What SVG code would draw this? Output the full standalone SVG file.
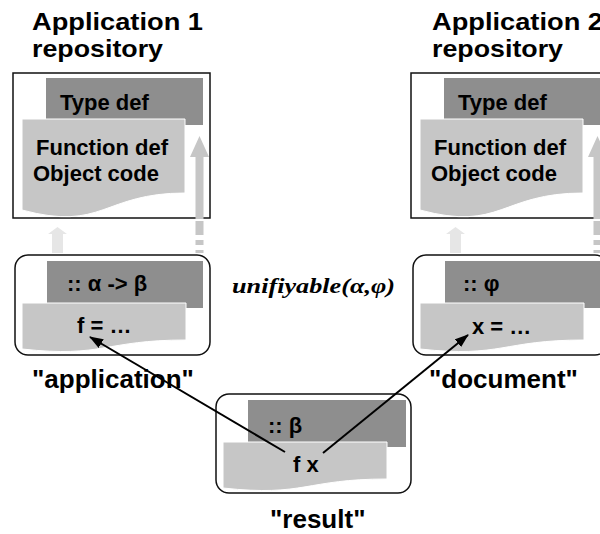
<svg xmlns="http://www.w3.org/2000/svg" width="600" height="534" viewBox="0 0 600 534">
  <style>
    .title { font-family: "Liberation Sans", Arial, sans-serif; font-weight: bold; font-size: 24px; fill: #000; }
    .label { font-family: "Liberation Sans", Arial, sans-serif; font-weight: bold; font-size: 26px; fill: #000; }
    .code  { font-family: "Liberation Sans", Arial, sans-serif; font-weight: bold; font-size: 22px; fill: #000; }
    .rule  { font-family: "Liberation Serif", "Times New Roman", serif; font-weight: bold; font-style: italic; font-size: 21px; fill: #000; }
    .frame { fill: #fff; stroke: #111; stroke-width: 1.5; }
    .dark  { fill: #8e8e8e; }
    .light { fill: #c6c6c6; stroke: #fff; stroke-width: 1; }
    .link  { stroke: #000; stroke-width: 2; fill: none; marker-end: url(#head); }
  </style>
  <defs>
    <marker id="head" viewBox="0 0 14 10" refX="13" refY="5" markerWidth="14" markerHeight="10" markerUnits="userSpaceOnUse" orient="auto">
      <path d="M0,0 L14,5 L0,10 Z" fill="#000"/>
    </marker>
    <!-- repository contents: type layer behind a document-shaped code layer -->
    <g id="repoContent">
      <rect class="dark" x="46" y="78" width="157" height="47"/>
      <path class="light" d="M22,119 H185 V193 C103,193 103,232 22,210 Z"/>
      <text class="code" x="60" y="110">Type def</text>
      <text class="code" x="36" y="155">Function def</text>
      <text class="code" x="33" y="181">Object code</text>
    </g>
    <!-- pale upward arrow under the repository -->
    <path id="paleArrow" d="M52,253 V234 H48 L57.5,227 L67,234 H63 V253 Z" fill="#e6e6e6"/>
    <!-- grey upward arrow with broken tail -->
    <g id="greyArrow" fill="#c6c6c6">
      <path d="M195.5,219 V157 H190 L199.5,136 L209,157 H203.5 V219 Z"/>
      <rect x="195.5" y="221" width="8" height="14"/>
      <rect x="195.5" y="240" width="8" height="5"/>
      <rect x="195.5" y="250" width="8" height="3"/>
    </g>
  </defs>

  <!-- repository links -->
  <g id="repoLinks">
    <use href="#paleArrow"/>
    <use href="#paleArrow" x="398"/>
  </g>

  <g id="app1Repo">
    <text class="title" x="32" y="30" textLength="171" lengthAdjust="spacingAndGlyphs">Application 1</text>
    <text class="title" x="32" y="57" textLength="131" lengthAdjust="spacingAndGlyphs">repository</text>
    <rect class="frame" x="13" y="73" width="197" height="145"/>
    <use href="#repoContent"/>
  </g>

  <g id="app2Repo">
    <text class="title" x="432" y="30" textLength="171" lengthAdjust="spacingAndGlyphs">Application 2</text>
    <text class="title" x="432" y="57" textLength="131" lengthAdjust="spacingAndGlyphs">repository</text>
    <rect class="frame" x="411" y="73" width="197" height="145"/>
    <use href="#repoContent" x="398"/>
  </g>

  <g id="repoLinksUp">
    <use href="#greyArrow"/>
    <use href="#greyArrow" x="398"/>
  </g>

  <g id="application">
    <rect class="frame" x="15" y="255" width="195" height="100" rx="13"/>
    <rect class="dark" x="47" y="261" width="156" height="47"/>
    <path class="light" d="M22,303 H186 V340 C104,340 104,358 22,349 Z"/>
    <text class="code" x="67" y="291">:: α -&gt; β</text>
    <text class="code" x="77" y="333">f = …</text>
    <text class="label" x="32" y="388">"application"</text>
  </g>

  <g id="document">
    <rect class="frame" x="413" y="255" width="195" height="100" rx="13"/>
    <rect class="dark" x="445" y="261" width="156" height="47"/>
    <path class="light" d="M420,303 H584 V340 C502,340 502,358 420,349 Z"/>
    <text class="code" x="463" y="291">:: φ</text>
    <text class="code" x="472" y="334">x = …</text>
    <text class="label" x="429" y="388">"document"</text>
  </g>

  <g id="result">
    <rect class="frame" x="216" y="394" width="195" height="99" rx="13"/>
    <rect class="dark" x="248" y="400" width="158" height="47"/>
    <path class="light" d="M223,442 H387 V479 C305,479 305,497 223,488 Z"/>
    <text class="code" x="268" y="433">:: β</text>
    <text class="code" x="293" y="472">f x</text>
    <text class="label" x="270" y="528">"result"</text>
  </g>

  <text id="unifiable" class="rule" x="232" y="293" textLength="163" lengthAdjust="spacingAndGlyphs">unifiyable(α,φ)</text>

  <!-- application links -->
  <g id="connectors">
    <line class="link" x1="285" y1="452" x2="90" y2="337"/>
    <line class="link" x1="323" y1="453" x2="468" y2="335"/>
  </g>
</svg>
